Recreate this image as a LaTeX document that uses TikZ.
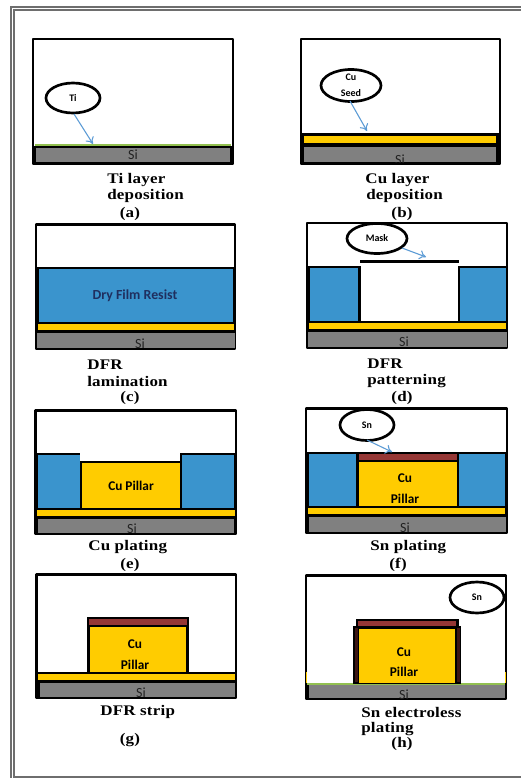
\documentclass[tikz,border=0pt]{standalone}
\usepackage{fontspec}
\setmainfont{Liberation Serif}
\newfontfamily\inner{Carlito}
\newfontfamily\capfont[FakeStretch=1.16,LetterSpace=1.5]{Liberation Serif}
\definecolor{resist}{HTML}{3A94CD}
\definecolor{gold}{HTML}{FFCC00}
\definecolor{sigrey}{HTML}{808080}
\definecolor{tin}{HTML}{953735}
\definecolor{arrowblue}{HTML}{5B9BD5}
\definecolor{tiline}{HTML}{92C050}
\definecolor{framegrey}{HTML}{6E6E6E}
\definecolor{resistink}{HTML}{1F2F5F}
\definecolor{siink}{HTML}{222222}
\tikzset{
  x=0.75pt,y=-0.75pt,
  panelbox/.style={draw=black,line width=2.2pt,fill=white,line join=round},
  bubble/.style={ellipse,draw=black,line width=2pt,fill=white,inner sep=0pt,
    align=center,font=\inner\bfseries\fontsize{7.5}{11}\selectfont},
  caption/.style={anchor=west,inner sep=0pt,font=\capfont\bfseries\fontsize{11}{12}\selectfont},
  sublabel/.style={inner sep=0pt,font=\capfont\bfseries\fontsize{11}{12}\selectfont},
  silabel/.style={inner sep=0pt,text=siink,font=\inner\fontsize{10.5}{11}\selectfont},
  pillarlabel/.style={inner sep=0pt,font=\inner\bfseries\fontsize{10}{12}\selectfont},
  feed/.style={draw=arrowblue,line width=0.8pt,-{To[length=5pt,width=7pt]}},
}
\usetikzlibrary{shapes.geometric,arrows.meta}
\begin{document}
\begin{tikzpicture}
\useasboundingbox (0,0) rectangle (521,778);
\fill[white] (0,0) rectangle (521,778);
% page frame
\draw[framegrey,line width=0.9pt] (521,7) -- (11,7) -- (11,778);
\draw[framegrey,line width=0.9pt] (521,10) -- (14,10) -- (14,777) -- (521,777);

% (a)
\draw[panelbox] (33,39) rectangle (233,164);
\fill[black] (33,146) rectangle (233,164);
\fill[sigrey] (36,147.5) rectangle (230,162);
\fill[tiline] (35,144) rectangle (231,146);
\node[silabel] (sia) at (133,155) {Si};
\node[bubble,minimum width=54pt*0.75,minimum height=30pt*0.75] (ti) at (73,98) {Ti};
\coordinate (tihit) at (93,144);
\draw[feed] (74,114) -- (tihit);
\node[caption] (ca1) at (107,180) {Ti layer};
\node[caption] (ca2) at (107,196) {deposition};
\node[sublabel] (la) at (130,214) {(a)};

% (b)
\draw[panelbox] (301,39) rectangle (500,164);
\fill[black] (301,133) rectangle (500,164);
\fill[gold] (304,135.5) rectangle (496,142.5);
\begin{scope}
\clip (304,147) rectangle (496,162);
\fill[sigrey] (304,147) rectangle (496,162);
\node[silabel] (sib) at (400,160) {Si};
\end{scope}
\node[bubble,minimum width=60pt*0.75,minimum height=31pt*0.75] (cu) at (351,85.5) {Cu\\[1pt]Seed};
\coordinate (cuhit) at (367,131);
\draw[feed] (350,101) -- (cuhit);
\node[caption] (cb1) at (365,180) {Cu layer};
\node[caption] (cb2) at (366,196) {deposition};
\node[sublabel] (lb) at (402,214) {(b)};

% (c)
\draw[panelbox] (36,224.5) rectangle (235,349);
\fill[black] (36,267) rectangle (235,349);
\fill[resist] (38.5,269) rectangle (233,321.5);
\fill[gold] (37.5,324) rectangle (233.5,330);
\fill[sigrey] (36.5,332.5) rectangle (234.5,348);
\node[pillarlabel,text=resistink,font=\inner\bfseries\fontsize{10.4}{12}\selectfont] (dfr) at (135,296) {Dry Film Resist};
\node[silabel] (sic) at (140,344) {Si};
\node[caption] (cc1) at (87,365) {DFR};
\node[caption] (cc2) at (87,381) {lamination};
\node[sublabel] (lc) at (130,398) {(c)};

% (d)
\draw[panelbox] (307,223) rectangle (507,348);
\fill[black] (307,266) rectangle (507,348);
\fill[resist] (309.5,268) rectangle (358,320.5);
\fill[white] (360.5,264) rectangle (457.5,320.5);
\fill[resist] (459.5,268) rectangle (505.5,320.5);
\fill[gold] (308.5,323) rectangle (505.5,329);
\fill[sigrey] (308,331.5) rectangle (506.5,347);
\fill[white] (309,225) rectangle (505,266);
\fill[black] (360,259.5) rectangle (459,263);
\fill[white] (360.5,263) rectangle (457.5,268);
\node[silabel] (sid) at (404,342) {Si};
\node[bubble,minimum width=60pt*0.75,minimum height=30pt*0.75] (mask) at (377,238.5) {Mask};
\coordinate (maskhit) at (426,257);
\draw[feed] (402,248) -- (maskhit);
\node[caption] (cd1) at (367,364) {DFR};
\node[caption] (cd2) at (367,381) {patterning};
\node[sublabel] (ld) at (402,398) {(d)};

% (e)
\draw[panelbox] (35.5,410.5) rectangle (236,534);
\fill[black] (35.5,507) rectangle (236,534);
\fill[black] (35.5,452.5) rectangle (80,507);
\fill[black] (180,452.5) rectangle (236,507);
\fill[black] (80,460.5) rectangle (182,507);
\fill[resist] (38,454.5) rectangle (79.5,507.5);
\fill[resist] (181.5,454.5) rectangle (234,507.5);
\fill[gold] (82,463) rectangle (179.5,507.5);
\fill[gold] (36.5,509.5) rectangle (234.5,515.5);
\fill[sigrey] (37.5,518.5) rectangle (234,533);
\node[pillarlabel] (pe) at (131,486) {Cu Pillar};
\node[silabel] (sie) at (132,529) {Si};
\node[caption] (ce) at (88,547) {Cu plating};
\node[sublabel] (le) at (130,565) {(e)};

% (f)
\draw[panelbox] (306,408.5) rectangle (507,533);
\fill[black] (306,452) rectangle (507,533);
\fill[resist] (309,454) rectangle (356,505.5);
\fill[tin] (359,453.5) rectangle (456.5,459.5);
\fill[gold] (359,461.5) rectangle (456.5,505.5);
\fill[resist] (459,454) rectangle (505,505.5);
\fill[gold] (308,508) rectangle (505,514);
\fill[sigrey] (309,517) rectangle (506,532);
\node[pillarlabel] (pf1) at (405,478) {Cu};
\node[pillarlabel] (pf2) at (405,499) {Pillar};
\node[silabel] (sif) at (405,528) {Si};
\node[bubble,minimum width=54pt*0.75,minimum height=31pt*0.75] (snf) at (367,425) {Sn};
\coordinate (snfhit) at (392,452);
\draw[feed] (367,440) -- (snfhit);
\node[caption] (cf) at (370,547) {Sn plating};
\node[sublabel] (lf) at (398,565) {(f)};

% (g)
\draw[panelbox] (36.5,574.5) rectangle (236,698);
\fill[black] (36.5,671.5) rectangle (236,698);
\fill[black] (87,617) rectangle (189,672);
\fill[tin] (89,619) rectangle (186.5,625);
\fill[gold] (89.5,627) rectangle (186,672);
\fill[gold] (38,673.5) rectangle (234.5,680);
\fill[sigrey] (39.5,683) rectangle (235,697);
\node[pillarlabel] (pg1) at (135,644) {Cu};
\node[pillarlabel] (pg2) at (135,665) {Pillar};
\node[silabel] (sig) at (141,693) {Si};
\node[caption] (cg) at (100,712) {DFR strip};
\node[sublabel] (lg) at (130,740) {(g)};

% (h)
\draw[panelbox] (306,575.5) rectangle (506,699);
\fill[black] (306,683.5) rectangle (506,699);
\fill[gold] (305.5,672) rectangle (307,683);
\fill[gold] (504.5,672) rectangle (506,683);
\fill[tiline] (307,683) rectangle (505,684.5);
\fill[black] (356,618.5) rectangle (459,628);
\fill[black] (352.5,626) rectangle (461,683.5);
\fill[tin] (358,620.5) rectangle (455.5,626);
\fill[tin!40!black] (354.5,628) rectangle (357.5,681.5);
\fill[tin!40!black] (456.5,628) rectangle (459.5,681.5);
\fill[gold] (359,628.5) rectangle (455,683);
\fill[sigrey] (308.5,684.5) rectangle (504.5,698);
\node[pillarlabel] (ph1) at (404,652) {Cu};
\node[pillarlabel] (ph2) at (404,672) {Pillar};
\node[silabel] (sih) at (404,695) {Si};
\node[bubble,minimum width=54pt*0.75,minimum height=31pt*0.75] (snh) at (477,597.5) {Sn};
\node[caption] (ch1) at (361,712) {Sn electroless};
\node[caption] (ch2) at (361,729) {plating};
\node[sublabel] (lh) at (402,744) {(h)};
\end{tikzpicture}
\end{document}
